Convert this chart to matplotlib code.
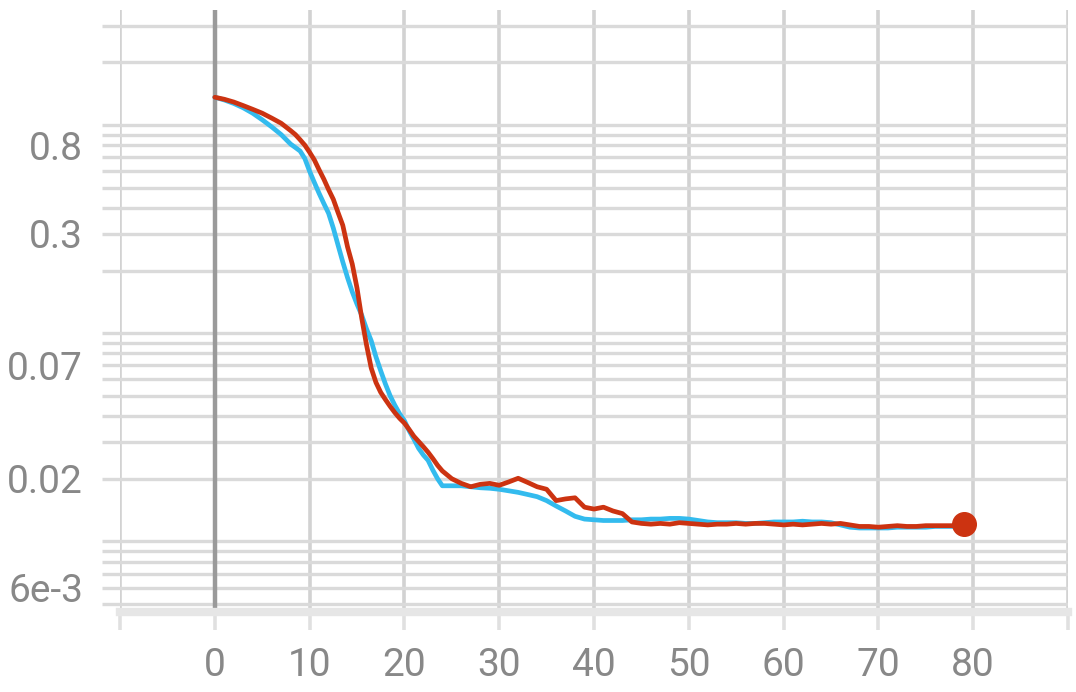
import matplotlib.pyplot as plt
from matplotlib.ticker import FixedLocator, FuncFormatter, NullLocator

# whole steps, with half steps through the steep drop
steps = list(range(0, 8)) + [8 + 0.5 * i for i in range(33)] + list(range(25, 80))

red_loss = [1.36, 1.33, 1.29, 1.24, 1.19, 1.14, 1.08, 1.02,
            0.94, 0.90, 0.85, 0.80, 0.74, 0.68, 0.61, 0.55, 0.49, 0.44,
            0.38, 0.33, 0.26, 0.215, 0.165, 0.118, 0.088, 0.068, 0.058, 0.052,
            0.048, 0.0445, 0.0415, 0.039, 0.037, 0.0345, 0.032, 0.0302, 0.0285, 0.0268,
            0.0250, 0.0232, 0.0218,
            0.0200, 0.0190, 0.0183, 0.0188, 0.0190,
            0.0186, 0.0193, 0.0201, 0.0192, 0.0183, 0.0178, 0.0157, 0.0160, 0.0162, 0.0146,
            0.0143, 0.0146, 0.0140, 0.0136, 0.0124, 0.0122, 0.0121, 0.0122, 0.0121, 0.0123,
            0.0122, 0.0121, 0.0120, 0.0121, 0.0121, 0.0122, 0.0121, 0.0122, 0.0122, 0.0121,
            0.0120, 0.0121, 0.0120, 0.0121, 0.0122, 0.0121, 0.0122, 0.0120, 0.0118, 0.0118,
            0.0117, 0.0118, 0.0119, 0.0118, 0.0118, 0.0119, 0.0119, 0.0119, 0.0119, 0.0121]

blue_loss = [1.36, 1.32, 1.27, 1.21, 1.14, 1.06, 0.98, 0.90,
             0.81, 0.78, 0.75, 0.69, 0.60, 0.53, 0.47, 0.42, 0.377, 0.32,
             0.265, 0.22, 0.185, 0.158, 0.138, 0.122, 0.105, 0.092, 0.077, 0.066,
             0.057, 0.050, 0.045, 0.041, 0.038, 0.034, 0.031, 0.028, 0.026, 0.0245,
             0.022, 0.0200, 0.0185,
             0.0185, 0.0185, 0.0183, 0.0181, 0.0180,
             0.0178, 0.0175, 0.0172, 0.0168, 0.0164, 0.0157, 0.0148, 0.0140, 0.0132, 0.0128,
             0.0127, 0.0126, 0.0126, 0.0126, 0.0127, 0.0127, 0.0128, 0.0128, 0.0129, 0.0129,
             0.0128, 0.0126, 0.0124, 0.0123, 0.0123, 0.0123, 0.0122, 0.0122, 0.0123, 0.0124,
             0.0124, 0.0124, 0.0125, 0.0124, 0.0124, 0.0123, 0.0120, 0.0117, 0.0116, 0.0116,
             0.0116, 0.0116, 0.0117, 0.0117, 0.0117, 0.0117, 0.0118, 0.0118, 0.0118, 0.0118]

x_ticks = [-10, 0, 10, 20, 30, 40, 50, 60, 70, 80, 90]
x_labels = {0: "0", 10: "10", 20: "20", 30: "30", 40: "40", 50: "50",
            60: "60", 70: "70", 80: "80"}
y_labels = {0.8: "0.8", 0.3: "0.3", 0.07: "0.07", 0.02: "0.02", 0.006: "6e-3"}

GRID = "#dadada"
VGRID = "#d2d2d2"
TEXT = "#888888"
RED = "#cc3311"
BLUE = "#33bbee"

plt.rcParams["font.family"] = ["Roboto", "DejaVu Sans"]

fig = plt.figure(figsize=(10.76, 6.92), dpi=100)
ax = fig.add_axes([120 / 1076, 1 - 612 / 692, 948 / 1076, 602 / 692])

ax.set_yscale("log")
ax.set_xlim(-10, 90)
ax.set_ylim(0.00458, 3.57)

# every 1..9 x 10^k line is drawn, only a few get a label
y_grid = [m * 10.0 ** k for k in (-3, -2, -1, 0) for m in range(1, 10)]
y_grid = [v for v in y_grid if 0.00458 <= v <= 3.57]
ax.yaxis.set_major_locator(FixedLocator(y_grid))
ax.yaxis.set_minor_locator(NullLocator())


def ylab(v, pos):
    for key, text in y_labels.items():
        if abs(v - key) / key < 1e-6:
            return text
    return ""


ax.yaxis.set_major_formatter(FuncFormatter(ylab))
ax.xaxis.set_major_locator(FixedLocator(x_ticks))
ax.xaxis.set_major_formatter(FuncFormatter(lambda v, pos: x_labels.get(int(round(v)), "")))
ax.xaxis.set_minor_locator(NullLocator())

ax.grid(True, axis="y", color=GRID, linewidth=2.4)
ax.grid(True, axis="x", color=VGRID, linewidth=2.6)
ax.axvline(0, color="#9a9a9a", linewidth=3.2, zorder=1.5)
ax.set_axisbelow(True)

ax.tick_params(axis="y", length=13, width=2.4, color=GRID, pad=13.5,
               labelsize=28, labelcolor=TEXT)
ax.tick_params(axis="x", length=13, width=2.6, color="#e0e0e0", pad=12,
               labelsize=28, labelcolor=TEXT)

for side in ("top", "right", "left"):
    ax.spines[side].set_visible(False)
ax.spines["bottom"].set_color("#e6e6e6")
ax.spines["bottom"].set_linewidth(6)

ax.plot(steps, blue_loss, color=BLUE, linewidth=3.4, zorder=3,
        solid_joinstyle="round", solid_capstyle="round")
ax.plot(steps, red_loss, color=RED, linewidth=3.4, zorder=4,
        solid_joinstyle="round", solid_capstyle="round")
ax.plot(steps[-1], red_loss[-1], "o", color=RED, markersize=17, zorder=5)

fig.savefig("out.png", dpi=100)
